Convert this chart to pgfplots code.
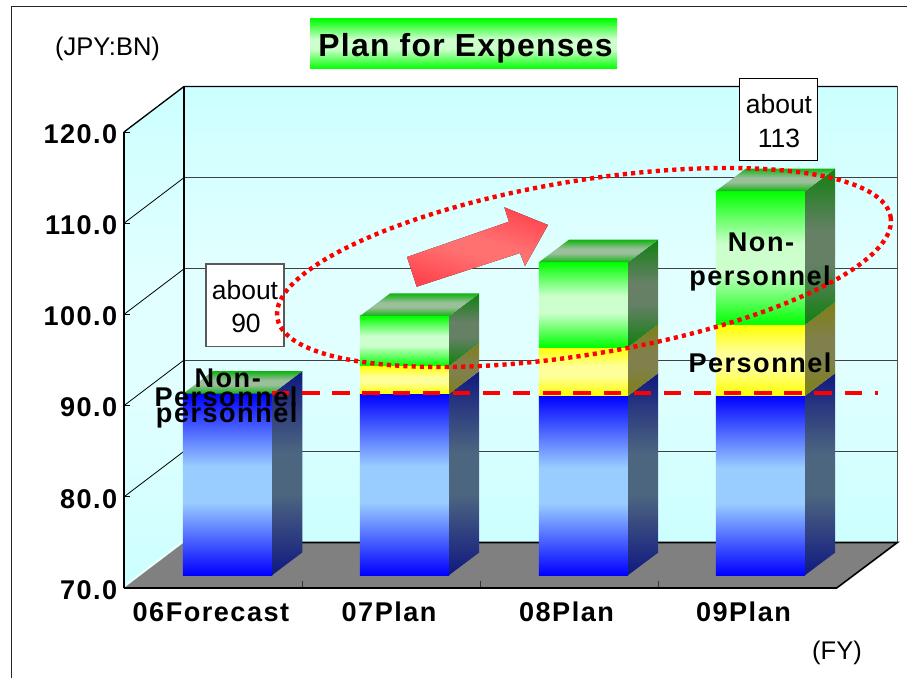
\documentclass[border=0pt]{standalone}
\usepackage{fontspec}
\usepackage{pgfplots}
\pgfplotsset{compat=1.18}
\setmainfont{Liberation Sans}
\newfontfamily\spaced[LetterSpace=5.5]{Liberation Sans}
\newfontfamily\titlefont[LetterSpace=4]{Liberation Sans}
\newcommand\axisfont{\spaced\bfseries\fontsize{20.4}{22}\selectfont}
\newcommand\plainfont{\fontsize{19.2}{23}\selectfont}
\newcommand\boxfont{\fontsize{19.9}{23}\selectfont}

\definecolor{wallout}{RGB}{204,255,255}
\definecolor{wallmid}{RGB}{226,255,255}
\definecolor{floorgrey}{RGB}{128,128,128}
\definecolor{bluefull}{RGB}{0,0,255}
\definecolor{bluemid}{RGB}{153,204,255}
\definecolor{bluesideout}{RGB}{16,24,128}
\definecolor{bluesidemid}{RGB}{77,102,128}
\definecolor{yellowfull}{RGB}{255,255,0}
\definecolor{yellowmid}{RGB}{255,255,153}
\definecolor{yellowsideout}{RGB}{128,128,20}
\definecolor{yellowsidemid}{RGB}{128,128,77}
\definecolor{greenfull}{RGB}{0,255,0}
\definecolor{greenmid}{RGB}{204,255,204}
\definecolor{greensideout}{RGB}{16,128,16}
\definecolor{greensidemid}{RGB}{102,128,102}
\definecolor{greentopout}{RGB}{16,180,16}
\definecolor{greentopmid}{RGB}{155,190,155}
\definecolor{arrowedge}{RGB}{255,70,80}
\definecolor{arrowmid}{RGB}{255,112,112}

% Three-stop vertical gradients with a short plateau around the light centre
\newcommand\mirrorshade[3]{%
  \pgfdeclareverticalshading{#1}{100bp}{color(0bp)=(#2); color(25bp)=(#2); color(45bp)=(#3);
    color(55bp)=(#3); color(75bp)=(#2); color(100bp)=(#2)}}
\mirrorshade{wall}{wallout}{wallmid}
\mirrorshade{bluefront}{bluefull}{bluemid}
\mirrorshade{blueside}{bluesideout}{bluesidemid}
\mirrorshade{yellowfront}{yellowfull}{yellowmid}
\mirrorshade{yellowside}{yellowsideout}{yellowsidemid}
\mirrorshade{greenfront}{greenfull}{greenmid}
\mirrorshade{greenside}{greensideout}{greensidemid}
\mirrorshade{greentop}{greentopout}{greentopmid}
\mirrorshade{arrowbody}{arrowedge}{arrowmid}

\tikzset{tri/.style={draw=none,mark=none,shade,shading=#1}}

% Depth of the fake 3D effect, in axis units
\def\depthx{0.1684}
\def\depthy{2.47}
\def\frontlift{1.425}
\def\barw{0.501}

% One stacked segment: left edge, lower value, upper value, colour family
\newcommand\segment[4]{%
  \pgfmathsetmacro\xa{#1}%
  \pgfmathsetmacro\xb{#1+\barw}%
  \pgfmathsetmacro\xc{#1+\barw+\depthx}%
  \pgfmathsetmacro\ya{#2+\frontlift}%
  \pgfmathsetmacro\yb{#3+\frontlift}%
  \pgfmathsetmacro\yc{#2+\frontlift+\depthy}%
  \pgfmathsetmacro\yd{#3+\frontlift+\depthy}%
  \addplot[tri=#4front] coordinates {(\xa,\ya)(\xb,\ya)(\xb,\yb)(\xa,\yb)} -- cycle;
  \addplot[tri=#4side] coordinates {(\xb,\ya)(\xc,\yc)(\xc,\yd)(\xb,\yb)} -- cycle;
}
\newcommand\topface[2]{%
  \pgfmathsetmacro\xa{#1}%
  \pgfmathsetmacro\xb{#1+\barw}%
  \pgfmathsetmacro\xc{#1+\barw+\depthx}%
  \pgfmathsetmacro\xd{#1+\depthx}%
  \pgfmathsetmacro\yb{#2+\frontlift}%
  \pgfmathsetmacro\yd{#2+\frontlift+\depthy}%
  \addplot[tri=greentop] coordinates {(\xa,\yb)(\xb,\yb)(\xc,\yd)(\xd,\yd)} -- cycle;
}
% Grid line running along the left wall and across the back wall
\newcommand\wallgrid[1]{%
  \pgfmathsetmacro\yb{#1+4.99}%
  \addplot[black,line width=0.6bp,mark=none] coordinates {(0,#1)(0.3367,\yb)};
  \addplot[black!75,line width=0.8bp,mark=none] coordinates {(0.3367,\yb)(4.341,\yb)};
}
% Short separator between two categories on the front edge of the floor
\newcommand\catsep[1]{%
  \addplot[black!80,line width=0.6bp,mark=none] coordinates {(#1,70)(#1,70.77)};
}

\begin{document}
\begin{tikzpicture}
\path[use as bounding box] (-93bp,-67.5bp) rectangle (587.25bp,441bp);
\begin{axis}[
  at={(0,0)},anchor=origin,
  scale only axis,width=534.5bp,height=342bp,
  xmin=0,xmax=4,ymin=70,ymax=120,
  clip=false,axis on top,
  axis x line=bottom,axis y line=left,
  axis line style={-,black,line width=1bp},
  ytick={70,80,...,120},
  xtick={0.488,1.488,2.484,3.477},
  xticklabels={06Forecast,07Plan,08Plan,09Plan},
  tick align=inside,
  major tick length=4.5bp,
  xtick style={draw=none},
  ytick style={black,line width=0.6bp},
  tick label style={font=\axisfont},
  yticklabel style={/pgf/number format/.cd,fixed,fixed zerofill,precision=1,assume math mode=true,
    /tikz/.cd,anchor=east,xshift=-1.5bp,yshift=-1.5bp},
  xticklabel style={anchor=center,yshift=-18bp},
]
% Walls and floor
\addplot[tri=wall] coordinates {(0.3367,74.99)(4.341,74.99)(4.341,124.99)(0.3367,124.99)} -- cycle;
\addplot[tri=wall] coordinates {(0,70)(0.3367,74.99)(0.3367,124.99)(0,120)} -- cycle;
\wallgrid{80}\wallgrid{90}\wallgrid{100}\wallgrid{110}
\addplot[black,line width=1bp,mark=none] coordinates {(0,120)(0.3367,124.99)(4.341,124.99)};
\addplot[black!70,line width=1bp,mark=none] coordinates {(4.341,124.99)(4.341,74.99)};
\addplot[black,line width=1bp,mark=none] coordinates {(0.3367,124.99)(0.3367,74.99)};
\addplot[fill=floorgrey,draw=none,mark=none] coordinates {(0,70)(0.3367,74.99)(4.341,74.99)(4,70)} -- cycle;
\addplot[black,line width=1.2bp,mark=none] coordinates {(0.3367,74.99)(4.341,74.99)(4,70)};
\addplot[white,line width=0.7bp,mark=none] coordinates {(0.012,70.35)(0.33,75.1)};
\catsep{1}\catsep{2}\catsep{3}

% 06 Forecast
\segment{0.3311}{70}{89.88}{blue}
\topface{0.3311}{89.88}
% 07 Plan
\segment{1.3245}{70}{89.88}{blue}
\segment{1.3245}{89.88}{92.95}{yellow}
\segment{1.3245}{92.95}{98.40}{green}
\topface{1.3245}{98.40}
% 08 Plan
\segment{2.329}{70}{89.66}{blue}
\segment{2.329}{89.66}{95.00}{yellow}
\segment{2.329}{95.00}{104.30}{green}
\topface{2.329}{104.30}
% 09 Plan
\segment{3.3225}{70}{89.66}{blue}
\segment{3.3225}{89.66}{97.45}{yellow}
\segment{3.3225}{97.45}{112.10}{green}
\topface{3.3225}{112.10}

% Level of the 06 forecast carried across the later years
\addplot[red,line width=3bp,mark=none,dash pattern=on 13bp off 9.6bp] coordinates {(0.831,91.33)(4.231,91.33)};
\end{axis}

% Annotations placed in screen units, y downwards
\begin{scope}[x=0.75bp,y=-0.75bp,shift={(-124,-588)}]
  \draw[black!85,line width=0.9bp] (11.5,678) -- (11.5,6.5) -- (907,6.5);

  \fill[tri=greenfront] (310,19) rectangle (617,69);
  \node[anchor=center,inner sep=0pt] at (465.5,48.5)
    {\titlefont\bfseries\fontsize{24}{28}\selectfont Plan for Expenses};

  \node[inner sep=0pt,font=\plainfont] at (107.5,49) {(JPY:BN)};
  \node[inner sep=0pt,font=\plainfont] at (837,653) {(FY)};

  % Arrow showing the upward trend
  \fill[shade,shading=arrowbody,shading angle=-17]
    (407,257) -- (509,221.7) -- (504.3,207.3) -- (548,225) -- (525,266) -- (520,253) -- (416.7,286.7) -- cycle;

  % Totals
  \draw[black!65,fill=white,line width=0.9bp] (206,264) rectangle (284,346.3);
  \node[inner sep=0pt,font=\boxfont] at (245,290.5) {about};
  \node[inner sep=0pt,font=\boxfont] at (246,323) {90};
  \draw[black,fill=white,line width=0.9bp] (739.3,78.3) rectangle (817.7,160.3);
  \node[inner sep=0pt,font=\boxfont] at (779,104.5) {about};
  \node[inner sep=0pt,font=\boxfont] at (779,138) {113};

  % Segment names
  \node[inner sep=0pt,font=\axisfont] at (227.7,378) {Non-};
  \node[inner sep=0pt,font=\axisfont] at (226,397) {Personnel};
  \node[inner sep=0pt,font=\axisfont] at (226.7,415) {personnel};
  \node[inner sep=0pt,font=\axisfont] at (761,242.7) {Non-};
  \node[inner sep=0pt,font=\axisfont] at (760,278) {personnel};
  \node[inner sep=0pt,font=\axisfont] at (760,363) {Personnel};

  % Dotted ellipse around the growing non-personnel part
  \draw[red,line width=3.3bp,dash pattern=on 3.1bp off 3.1bp,rotate around={9.35:(584,267.5)}]
    (584,267.5) ellipse [x radius=310.8,y radius=86.9];
\end{scope}
\end{tikzpicture}
\end{document}
